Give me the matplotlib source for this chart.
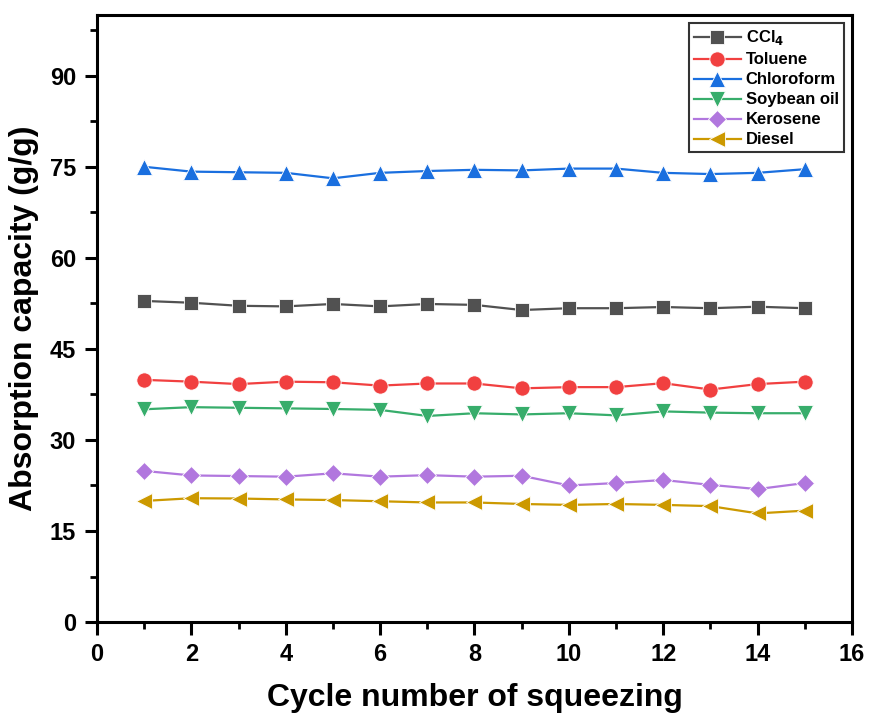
import matplotlib
matplotlib.use("Agg")
import matplotlib.pyplot as plt
from matplotlib.ticker import MultipleLocator

plt.rcParams["font.family"] = ["Liberation Sans Narrow", "Liberation Sans", "DejaVu Sans"]
plt.rcParams["font.weight"] = "bold"

# Data
cycles = list(range(1, 16))
ccl4 = [52.9, 52.6, 52.1, 52.0, 52.4, 52.0, 52.4, 52.25, 51.4, 51.7, 51.7, 51.9, 51.7, 51.95, 51.7]
toluene = [39.9, 39.6, 39.2, 39.6, 39.5, 38.95, 39.3, 39.3, 38.5, 38.7, 38.7, 39.35, 38.3, 39.2, 39.6]
chloroform = [75.0, 74.2, 74.1, 74.0, 73.1, 74.0, 74.3, 74.5, 74.4, 74.7, 74.7, 74.0, 73.8, 74.0, 74.6]
soybean = [35.05, 35.4, 35.3, 35.2, 35.1, 34.95, 33.95, 34.4, 34.2, 34.4, 34.05, 34.7, 34.5, 34.4, 34.4]
kerosene = [24.9, 24.15, 24.05, 23.95, 24.5, 23.95, 24.2, 23.95, 24.1, 22.5, 22.9, 23.4, 22.6, 21.9, 22.9]
diesel = [19.95, 20.4, 20.35, 20.2, 20.1, 19.9, 19.7, 19.7, 19.45, 19.3, 19.45, 19.3, 19.1, 17.9, 18.35]

series = [
    ("CCl$_4$", ccl4, "#515151", "s"),
    ("Toluene", toluene, "#F14040", "o"),
    ("Chloroform", chloroform, "#1A6FDF", "^"),
    ("Soybean oil", soybean, "#37AD6B", "v"),
    ("Kerosene", kerosene, "#B177DE", "D"),
    ("Diesel", diesel, "#CC9900", "<"),
]

fig = plt.figure(figsize=(8.69, 7.15), dpi=100)
ax = fig.add_axes([0.1116, 0.130, 0.8688, 0.849])

for name, vals, col, mk in series:
    ms = 9.5 if mk in ("D", "s") else 11
    ax.plot(cycles, vals, color=col, marker=mk, markersize=ms, linewidth=1.6,
            markeredgecolor="white", markeredgewidth=0.6, label=name)

ax.set_xlim(0, 16)
ax.set_ylim(0, 100)
ax.xaxis.set_major_locator(MultipleLocator(2))
ax.xaxis.set_minor_locator(MultipleLocator(1))
ax.yaxis.set_major_locator(MultipleLocator(15))
ax.yaxis.set_minor_locator(MultipleLocator(7.5))

for s in ax.spines.values():
    s.set_linewidth(2.2)
ax.tick_params(which="major", direction="out", length=9, width=2.2, labelsize=17, pad=6)
ax.tick_params(which="minor", direction="out", length=5, width=2.0)
for lab in ax.get_xticklabels() + ax.get_yticklabels():
    lab.set_fontweight("bold")

ax.set_xlabel("Cycle number of squeezing", fontsize=23, fontweight="bold", labelpad=12)
ax.set_ylabel("Absorption capacity (g/g)", fontsize=23, fontweight="bold", labelpad=8)

leg = ax.legend(loc="upper right", frameon=True, fancybox=False,
                edgecolor="black", handlelength=2.8, handletextpad=0.3,
                borderpad=0.3, labelspacing=0.3, borderaxespad=0.5,
                prop={"weight": "bold", "size": 12})
leg.get_frame().set_linewidth(1.5)

fig.savefig("out.png", dpi=100, facecolor="white")
